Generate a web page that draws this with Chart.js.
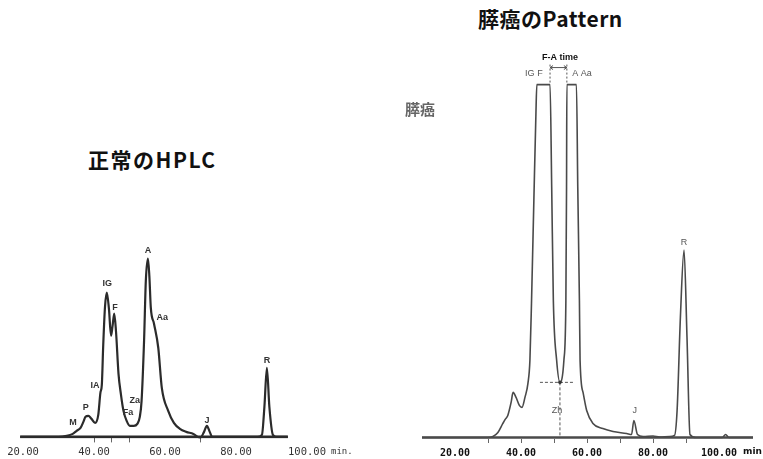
<!DOCTYPE html>
<html>
<head>
<meta charset="utf-8">
<script src="https://cdn.jsdelivr.net/npm/chart.js@4.4.0/dist/chart.umd.min.js"></script>
<style>
  body { margin: 0; background: #fff; width: 763px; height: 459px; overflow: hidden; position: relative; font-family: "Noto Sans CJK JP", sans-serif; }
  canvas { position: absolute; top: 0; }
  #normal { left: 0; }
  #cancer { left: 380px; }
  .title { position: absolute; font-weight: bold; color: #111; white-space: nowrap; font-size: 21px; line-height: 24px; }
</style>
</head>
<body>
<div class="title" style="left:88px;top:147px;letter-spacing:1.5px">正常のHPLC</div>
<div class="title" style="left:478px;top:6px;letter-spacing:0.5px">膵癌のPattern</div>
<canvas id="normal" width="380" height="465"></canvas>
<canvas id="cancer" width="383" height="465"></canvas>
<script>
// retention time (min) and detector signal
const normalTime = [19.2, 30, 32.3, 34, 35.1, 36.2, 37, 37.6, 38.4, 39.3, 40.3, 41.2, 41.8, 42.2, 42.6, 43.1, 43.6, 44.2, 44.8, 45.2, 45.7, 46.2, 46.9, 47.6, 48.3, 49.2, 50.1, 51.2, 52.2, 52.9, 53.4, 54.1, 54.6, 55.2, 55.6, 56.0, 56.9, 58.1, 59.1, 60.9, 62.5, 64.2, 66, 68, 69.9, 71, 71.8, 72.6, 73.3, 86, 87.3, 88, 88.7, 89.4, 90.4, 91.5, 94.6];
const normalSignal = [0, 0, 1, 3, 6, 9, 15, 20, 21, 18, 14, 22, 44, 52, 92, 130, 144, 128, 101, 110, 123, 105, 63, 42, 26, 16, 11, 11, 13, 20, 36, 96, 156, 178, 160, 129, 113, 89, 49, 26, 14, 8, 5, 3, -1, 5, 11, 5, 0, 0, 2, 30, 69, 30, 2, 0, 0];

const cancerTime = [10, 30, 31.5, 33, 34.5, 35.2, 36, 37, 37.6, 38.5, 39.5, 40.3, 41.2, 42.1, 42.7, 43.2, 43.9, 44.5, 44.8, 48.8, 49.3, 49.8, 50.8, 51.8, 53.0, 53.6, 53.8, 53.9, 56.8, 57.2, 57.7, 57.9, 58.8, 59.9, 61.8, 64.8, 67.9, 72, 73.5, 74.2, 75.3, 77, 80, 82, 85, 86.5, 87.3, 88.3, 89.4, 90.3, 91.2, 93, 101, 102, 103, 110.3];
const cancerSignal = [0, 0, 1, 5, 14, 18, 22, 35, 45, 40, 32, 30, 40, 54, 77, 137, 237, 320, 352, 352, 250, 137, 77, 55, 77, 137, 250, 352, 352, 250, 137, 77, 45, 27, 14, 9, 6, 4, 3, 17, 3, 1, 1.5, 0.5, 1, 2, 27, 120, 187, 100, 3, 0, 0, 3, 0, 0];

const tickValues = [20, 40, 60, 80, 100];
const normalMarks = [40, 45, 50, 70];
const cancerMarks = [30, 40, 50, 60, 70, 80, 90];

// peak names with the time / signal level they sit at
const normalPeakNames = ['M', 'P', 'IA', 'IG', 'F', 'Fa', 'Za', 'A', 'Aa', 'J', 'R'];
const normalPeakTime = [34.1, 37.7, 40.3, 43.7, 45.9, 49.6, 51.5, 55.2, 59.2, 71.8, 88.7];
const normalPeakLevel = [14, 29, 51, 153, 129, 24, 36, 186, 119, 16, 76];

const cancerPeakNames = ['膵癌', 'IG F', 'A Aa', 'F-A time', 'Zh', 'J', 'R'];
const cancerPeakTime = [9.4, 43.9, 58.5, 51.8, 50.9, 74.5, 89.4];
const cancerPeakLevel = [327, 363, 363, 379, 27, 27, 194];

const faTimes = [48.8, 53.9];   // F and A peak positions
const zhTime = 51.8;            // valley between F and A
const zhLevel = 55;

const peakLabels = {
  id: 'peakLabels',
  afterDatasetsDraw(chart, args, opts) {
    const ctx = chart.ctx, x = chart.scales.x, y = chart.scales.y;
    ctx.save();
    ctx.textAlign = 'center';
    ctx.textBaseline = 'middle';
    opts.names.forEach((n, i) => {
      ctx.fillStyle = opts.color;
      ctx.font = opts.font;
      if (n === '膵癌') { ctx.font = 'bold 15px "Noto Sans CJK JP"'; ctx.fillStyle = '#666'; }
      if (n === 'F-A time') { ctx.font = 'bold 9px "Liberation Sans"'; ctx.fillStyle = '#111'; }
      ctx.fillText(n, x.getPixelForValue(opts.times[i]), y.getPixelForValue(opts.levels[i]));
    });
    // "min." after the last tick label
    ctx.textAlign = 'left';
    ctx.font = opts.minFont;
    ctx.fillStyle = opts.tickColor;
    ctx.fillText(opts.minText, x.getPixelForValue(100) + opts.minGap, chart.chartArea.bottom + 13);

    if (opts.fa) {
      const x0 = x.getPixelForValue(faTimes[0]), x1 = x.getPixelForValue(faTimes[1]);
      const top = y.getPixelForValue(352), yb = y.getPixelForValue(369);
      ctx.strokeStyle = '#555';
      ctx.lineWidth = 1;
      ctx.setLineDash([2, 2]);
      ctx.beginPath();
      ctx.moveTo(x0, yb - 3); ctx.lineTo(x0, top);
      ctx.moveTo(x1, yb - 3); ctx.lineTo(x1, top);
      ctx.stroke();
      ctx.setLineDash([]);
      ctx.beginPath();
      ctx.moveTo(x0, yb); ctx.lineTo(x1, yb);
      ctx.moveTo(x0 + 3, yb - 2); ctx.lineTo(x0, yb); ctx.lineTo(x0 + 3, yb + 2);
      ctx.moveTo(x1 - 3, yb - 2); ctx.lineTo(x1, yb); ctx.lineTo(x1 - 3, yb + 2);
      ctx.stroke();
      // Zh: valley height
      const xv = x.getPixelForValue(zhTime), yv = y.getPixelForValue(zhLevel), y0 = y.getPixelForValue(0);
      ctx.setLineDash([3, 2]);
      ctx.beginPath();
      ctx.moveTo(xv - 20, yv); ctx.lineTo(xv + 14, yv);
      ctx.moveTo(xv, yv); ctx.lineTo(xv, y0);
      ctx.stroke();
      ctx.setLineDash([]);
      ctx.fillStyle = '#333';
      ctx.beginPath(); ctx.arc(xv, yv, 1.8, 0, Math.PI * 2); ctx.fill();
    }
    ctx.restore();
  }
};

function makeChart(id, time, signal, baseline, o) {
  const allTicks = [...new Set([...tickValues, ...o.marks])].sort((a, b) => a - b);
  return new Chart(document.getElementById(id), {
    type: 'line',
    data: {
      datasets: [
        {
          data: baseline.map(t => ({ x: t, y: 0 })),
          borderColor: o.lineColor,
          borderWidth: o.baseWidth,
          pointRadius: 0
        },
        {
          data: time.map((t, i) => ({ x: t, y: signal[i] })),
          borderColor: o.lineColor,
          borderWidth: o.lineWidth,
          pointRadius: 0,
          cubicInterpolationMode: 'monotone',
          fill: false
        }
      ]
    },
    options: {
      responsive: false,
      animation: false,
      layout: { padding: o.padding },
      plugins: {
        legend: { display: false },
        tooltip: { enabled: false },
        peakLabels: o.labels
      },
      scales: {
        x: {
          type: 'linear',
          min: o.xMin,
          max: o.xMax,
          afterBuildTicks: s => { s.ticks = allTicks.map(v => ({ value: v })); },
          border: { display: false },
          grid: {
            drawOnChartArea: false,
            tickLength: 4,
            tickColor: c => (c.tick && o.marks.includes(c.tick.value)) ? '#666' : 'rgba(0,0,0,0)'
          },
          ticks: {
            autoSkip: false,
            maxRotation: 0,
            padding: 4,
            color: o.tickColor,
            font: o.tickFont,
            callback: v => tickValues.includes(v) ? v.toFixed(2) : ''
          }
        },
        y: { display: false, min: -1.5, max: o.yMax }
      }
    },
    plugins: [peakLabels]
  });
}

makeChart('normal', normalTime, normalSignal, [19.2, 94.6], {
  marks: normalMarks,
  lineColor: '#2b2b2b', lineWidth: 2.2, baseWidth: 2.6,
  padding: { left: 20, right: 73, top: 200, bottom: 2 },
  xMin: 19.15, xMax: 100, yMax: 236.5,
  tickColor: '#333',
  tickFont: { family: 'DejaVu Sans Mono', size: 10.5 },
  labels: {
    names: normalPeakNames, times: normalPeakTime, levels: normalPeakLevel,
    font: 'bold 9px "Liberation Sans"', color: '#333',
    minText: 'min.', minFont: '9px "DejaVu Sans Mono"', minGap: 24, tickColor: '#333', fa: false
  }
});

makeChart('cancer', cancerTime, cancerSignal, [10, 110.3], {
  marks: cancerMarks,
  lineColor: '#4a4a4a', lineWidth: 1.6, baseWidth: 2.4,
  padding: { left: 42, right: 10, top: 40, bottom: 2 },
  xMin: 10, xMax: 110.3, yMax: 396.5,
  tickColor: '#111',
  tickFont: { family: 'DejaVu Sans Mono', size: 10, weight: 'bold' },
  labels: {
    names: cancerPeakNames, times: cancerPeakTime, levels: cancerPeakLevel,
    font: '9px "Liberation Sans"', color: '#555',
    minText: 'min', minFont: 'bold 9px "DejaVu Sans"', minGap: 24, tickColor: '#111', fa: true
  }
});
</script>
</body>
</html>
